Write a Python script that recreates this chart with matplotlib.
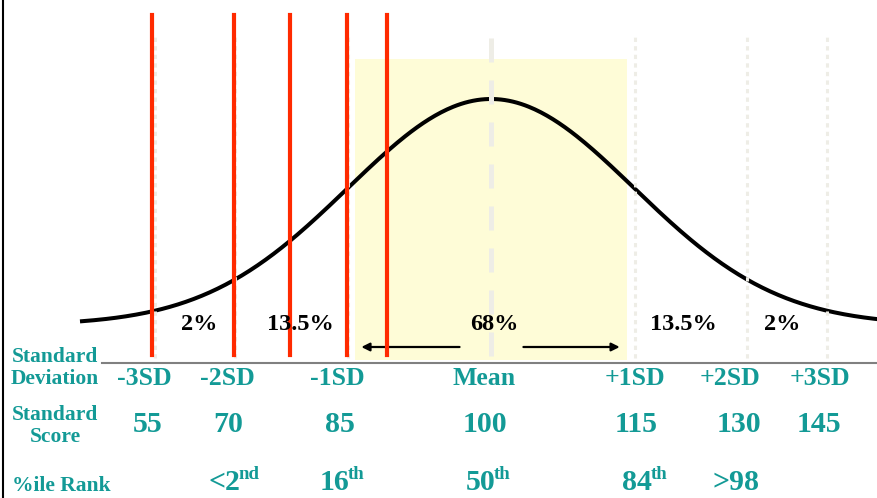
import numpy as np
import matplotlib
matplotlib.use("Agg")
import matplotlib.pyplot as plt

# Données de la courbe normale (score standard)
moyenne = 100
ecart_type = 15

# Scores marqués en rouge
scores_rouges = [64.4, 73.0, 78.9, 84.9, 89.1]

# Lignes guides pointillées (±1, ±2, ±3 SD)
guides = [64.8, 73.1, 85.0, 115.1, 126.9, 135.2]

# Zone ±1 SD (68%)
zone = (85.7, 114.3)

# Libellés
pourcentages = ["2%", "13.5%", "68%", "13.5%", "2%"]
etiquettes_sd = ["-3SD", "-2SD", "-1SD", "Mean", "+1SD", "+2SD", "+3SD"]
scores_std = ["55", "70", "85", "100", "115", "130", "145"]
rangs = ["<2", "16", "50", "84", ">98"]
rangs_exposant = ["nd", "th", "th", "th", ""]

plt.rcParams['font.family'] = ['Liberation Serif', 'DejaVu Serif']

W, H = 878, 498
px = 143 / ecart_type  # pixels par point de score
x_min = moyenne - 491 / px
x_max = moyenne + 387 / px

fig = plt.figure(figsize=(W / 100, H / 100), dpi=100)
ax = fig.add_axes([0, 0, 1, 1])
ax.set_xlim(x_min, x_max)
ax.set_ylim((325 - H) / 226, 325 / 226)
ax.axis('off')

# Zone jaune
ax.axvspan(zone[0], zone[1], ymin=1 - 360 / H, ymax=1 - 59 / H,
           color='#fefcd7', lw=0, zorder=0)

# Courbe en cloche
x = np.linspace(moyenne - 409 / px, x_max, 400)
y = np.exp(-0.5 * ((x - moyenne) / ecart_type) ** 2)
ax.plot(x, y, color='black', lw=2.9, zorder=2)

# Lignes guides
for g in guides:
    ax.axvline(g, ymin=1 - 358 / H, ymax=1 - 35 / H, color='#eeede6',
               lw=2.2, dashes=(1.4, 1.4), zorder=3)
ax.axvline(moyenne, ymin=1 - 356 / H, ymax=1 - 35 / H, color='#eeede6',
           lw=3.6, dashes=(4.8, 3.6), zorder=3)

# Lignes rouges
for s in scores_rouges:
    ax.axvline(s, ymin=1 - 355 / H, ymax=1 - 15 / H, color='#ff2a00',
               lw=3, zorder=5)

# Flèches
y_fl = (325 - 347) / 226
ax.annotate('', xy=(moyenne - 13.6, y_fl), xytext=(moyenne - 3.3, y_fl),
            arrowprops=dict(arrowstyle='-|>', lw=1.6, color='black',
                            mutation_scale=12, shrinkA=0, shrinkB=0), zorder=4)
ax.annotate('', xy=(moyenne + 13.5, y_fl), xytext=(moyenne + 3.4, y_fl),
            arrowprops=dict(arrowstyle='-|>', lw=1.6, color='black',
                            mutation_scale=12, shrinkA=0, shrinkB=0), zorder=4)

# Ligne horizontale grise
ax.axhline((325 - 363) / 226, xmin=102 / W, xmax=1, color='#808080', lw=1.5)

# Bordure gauche
fig.add_artist(plt.Line2D([3 / W, 3 / W], [0, 1], color='black', lw=1.5))

teal = '#139a96'

def texte(xp, yp, s, **kw):
    return fig.text(xp / W, 1 - yp / H, s, ha='center', va='center',
                    fontweight='bold', **kw)

for xp, s in zip([199, 300, 494, 683, 782], pourcentages):
    texte(xp, 324, s, fontsize=17.5, color='black')

for xp, s in zip([144, 227, 337, 484, 635, 730, 820], etiquettes_sd):
    texte(xp, 378, s, fontsize=18.5, color=teal)

for xp, s in zip([148, 228, 340, 485, 636, 739, 819], scores_std):
    texte(xp, 424, s, fontsize=21.5, color=teal)

for xp, s, e in zip([224, 335, 481, 637, 736], rangs, rangs_exposant):
    t = texte(xp, 482, s, fontsize=21.5, color=teal)
    if e:
        ax.annotate(e, xy=(1, 1), xycoords=t, xytext=(-1.2, 2),
                    textcoords='offset points', ha='left', va='top',
                    fontweight='bold', fontsize=13.5, color=teal)

texte(55, 368, "Standard\nDeviation", fontsize=15.5, color=teal,
      linespacing=1.15)
texte(55, 426, "Standard\nScore", fontsize=15.5, color=teal,
      linespacing=1.15)
fig.text(12 / W, 1 - 486 / H, "%ile Rank", ha='left', va='center',
         fontweight='bold', fontsize=15.5, color=teal)

fig.savefig('out.png', dpi=100)
